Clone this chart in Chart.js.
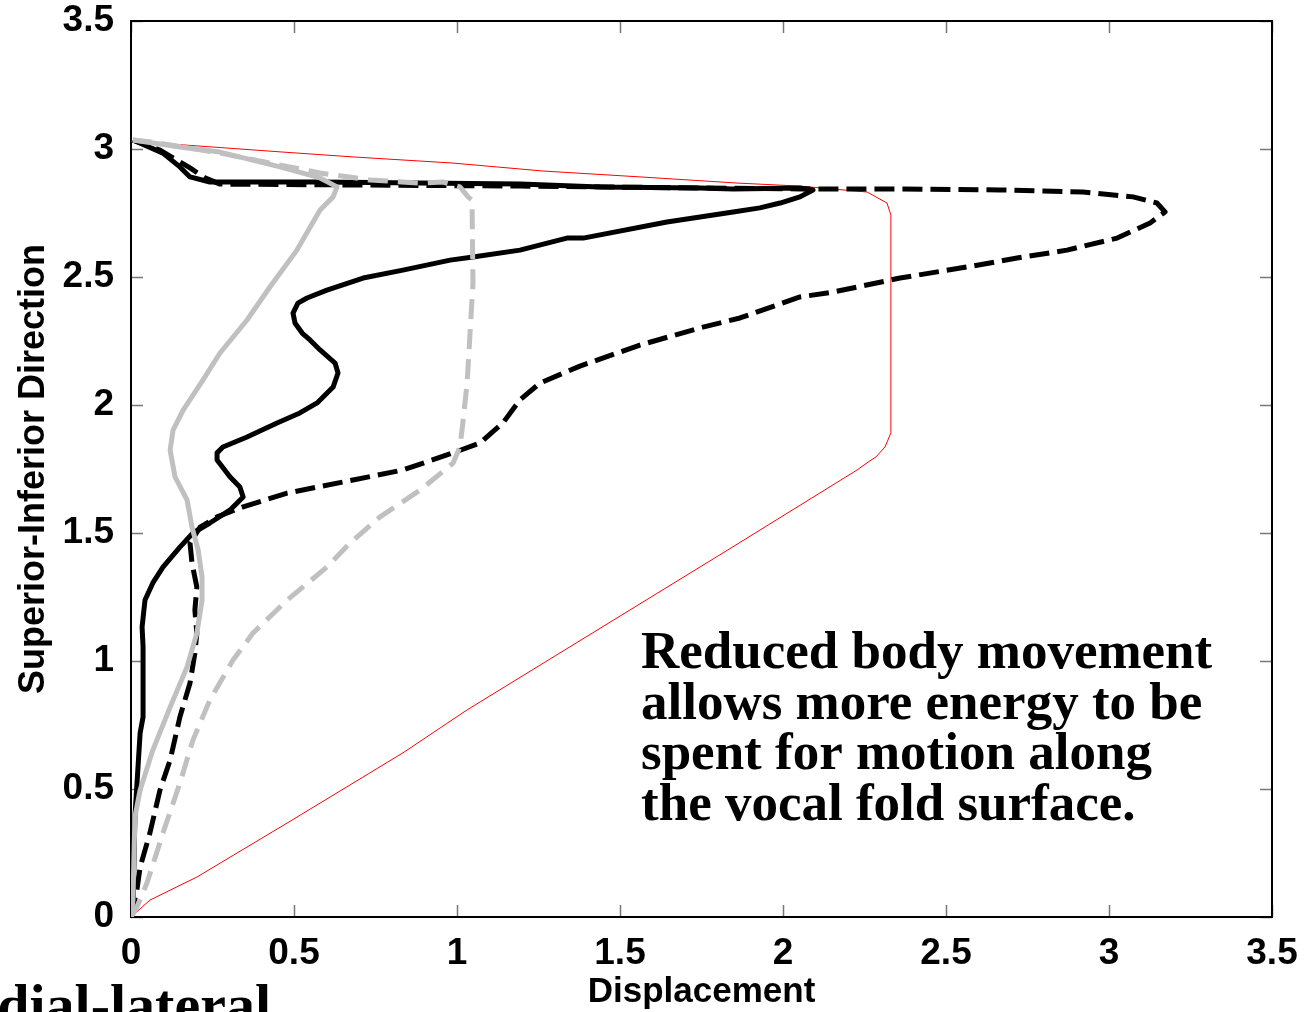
<!DOCTYPE html>
<html>
<head>
<meta charset="utf-8">
<title>Displacement profile</title>
<script src="https://cdn.jsdelivr.net/npm/chart.js@4.4.1/dist/chart.umd.min.js"></script>
<style>
  html, body { margin: 0; padding: 0; background: #fff; }
  canvas { display: block; }
</style>
</head>
<body>
<canvas id="myChart" width="1308" height="1012"></canvas>
<script>
// tick values for both axes
const xTicks = [0, 0.5, 1, 1.5, 2, 2.5, 3, 3.5];
const yTicks = [0, 0.5, 1, 1.5, 2, 2.5, 3, 3.5];

// black solid curve
const blackSolidX = [0, 0.006, 0.012, 0.028, 0.037, 0.037, 0.034, 0.043, 0.067, 0.098, 0.150, 0.190, 0.242, 0.304, 0.344, 0.334, 0.304, 0.264, 0.264, 0.282, 0.356, 0.448, 0.518, 0.571, 0.620, 0.635, 0.626, 0.580, 0.549, 0.525, 0.503, 0.497, 0.512, 0.540, 0.601, 0.712, 0.834, 0.979, 1.049, 1.193, 1.337, 1.387, 1.644, 1.847, 1.929, 1.991, 2.052, 2.092, 2.052, 1.847, 1.745, 1.439, 1.193, 0.580, 0.242, 0.181, 0.150, 0.098, 0.006];
const blackSolidY = [0, 0.016, 0.391, 0.719, 0.781, 1.055, 1.133, 1.238, 1.305, 1.367, 1.445, 1.500, 1.539, 1.590, 1.641, 1.680, 1.719, 1.785, 1.813, 1.836, 1.875, 1.930, 1.969, 2.008, 2.070, 2.125, 2.164, 2.215, 2.254, 2.281, 2.320, 2.359, 2.398, 2.418, 2.449, 2.496, 2.527, 2.566, 2.578, 2.605, 2.652, 2.652, 2.715, 2.754, 2.770, 2.789, 2.813, 2.840, 2.848, 2.844, 2.848, 2.852, 2.863, 2.871, 2.871, 2.891, 2.930, 2.984, 3.035];

// black dashed curve
const blackDashX = [0, 0.018, 0.028, 0.058, 0.089, 0.120, 0.150, 0.181, 0.196, 0.202, 0.196, 0.202, 0.187, 0.181, 0.212, 0.264, 0.344, 0.479, 0.681, 0.834, 0.988, 1.071, 1.141, 1.193, 1.255, 1.377, 1.561, 1.745, 1.868, 2.052, 2.153, 2.359, 2.564, 2.718, 2.871, 3.025, 3.126, 3.172, 3.147, 3.074, 2.920, 2.666, 2.359, 2.052, 1.193, 0.273, 0.227, 0.181, 0.089, 0.006];
const blackDashY = [0, 0.105, 0.195, 0.328, 0.496, 0.613, 0.781, 0.914, 1.031, 1.109, 1.199, 1.289, 1.383, 1.461, 1.523, 1.563, 1.602, 1.656, 1.707, 1.746, 1.813, 1.852, 1.930, 2.020, 2.086, 2.152, 2.234, 2.301, 2.340, 2.422, 2.441, 2.496, 2.539, 2.574, 2.605, 2.652, 2.711, 2.754, 2.789, 2.813, 2.832, 2.840, 2.844, 2.844, 2.855, 2.863, 2.887, 2.926, 2.996, 3.035];

// gray solid curve
const graySolidX = [0, 0.006, 0.012, 0.028, 0.067, 0.120, 0.172, 0.202, 0.218, 0.218, 0.206, 0.187, 0.172, 0.135, 0.120, 0.129, 0.160, 0.221, 0.273, 0.356, 0.426, 0.509, 0.580, 0.620, 0.632, 0.580, 0.457, 0.273, 0.150, 0.006];
const graySolidY = [0, 0.066, 0.391, 0.496, 0.652, 0.820, 0.977, 1.109, 1.238, 1.328, 1.434, 1.523, 1.629, 1.719, 1.824, 1.902, 1.980, 2.098, 2.203, 2.332, 2.461, 2.605, 2.762, 2.813, 2.852, 2.887, 2.930, 2.988, 3.008, 3.035];

// gray dashed curve
const grayDashX = [0, 0.018, 0.049, 0.098, 0.150, 0.190, 0.242, 0.313, 0.374, 0.479, 0.601, 0.672, 0.764, 0.887, 0.988, 1.009, 1.018, 1.031, 1.040, 1.049, 1.046, 1.034, 1.009, 0.957, 0.887, 0.733, 0.580, 0.273, 0.067, 0.006];
const grayDashY = [0, 0.039, 0.133, 0.328, 0.523, 0.691, 0.848, 1.004, 1.109, 1.238, 1.367, 1.461, 1.563, 1.668, 1.773, 1.836, 1.930, 2.086, 2.281, 2.477, 2.801, 2.813, 2.852, 2.871, 2.867, 2.879, 2.906, 2.984, 3.027, 3.035];

// thin red outline
const redX = [0, 0.058, 0.202, 0.479, 0.834, 1.031, 1.831, 2.227, 2.261, 2.285, 2.313, 2.331, 2.331, 2.319, 2.258, 2.052, 1.859, 1.561, 1.264, 0.988, 0.681, 0.466, 0.160, 0];
const redY = [0, 0.066, 0.156, 0.367, 0.641, 0.809, 1.434, 1.746, 1.777, 1.797, 1.836, 1.891, 2.742, 2.789, 2.832, 2.855, 2.867, 2.891, 2.914, 2.945, 2.969, 2.988, 3.016, 3.030];

const noteLines = [
    "Reduced body movement",
    "allows more energy to be",
    "spent for motion along",
    "the vocal fold surface."
];
const bottomText = "Medial-lateral";

function toPoints(xs, ys) {
    return xs.map((x, i) => ({ x: x, y: ys[i] }));
}

// box round the plot with MATLAB style inward ticks
const boxPlugin = {
    id: 'boxTicks',
    beforeDatasetsDraw(chart) {
        const { ctx, chartArea: a, scales } = chart;
        ctx.save();
        ctx.strokeStyle = '#777';
        ctx.lineWidth = 1.5;
        ctx.beginPath();
        xTicks.forEach(v => {
            const px = Math.round(scales.x.getPixelForValue(v)) + 0.5;
            ctx.moveTo(px, a.bottom); ctx.lineTo(px, a.bottom - 12);
            ctx.moveTo(px, a.top); ctx.lineTo(px, a.top + 12);
        });
        yTicks.forEach(v => {
            const py = Math.round(scales.y.getPixelForValue(v)) + 0.5;
            ctx.moveTo(a.left, py); ctx.lineTo(a.left + 12, py);
            ctx.moveTo(a.right, py); ctx.lineTo(a.right - 12, py);
        });
        ctx.stroke();
        ctx.strokeStyle = '#000';
        ctx.lineWidth = 2;
        ctx.strokeRect(a.left, a.top, a.right - a.left, a.bottom - a.top);
        ctx.restore();
    },
    afterDraw(chart) {
        const { ctx } = chart;
        ctx.save();
        ctx.fillStyle = '#000';
        ctx.textAlign = 'left';
        ctx.textBaseline = 'alphabetic';
        ctx.font = 'bold 53px "Liberation Serif", "Times New Roman", serif';
        noteLines.forEach((line, i) => {
            ctx.fillText(line, 641, 668 + i * 50.7);
        });
        // label that runs off the bottom left of the page
        ctx.font = 'bold 58px "Liberation Serif", "Times New Roman", serif';
        ctx.textAlign = 'right';
        ctx.fillText(bottomText, 271, 1024);
        ctx.restore();
    }
};

const sans = '"Liberation Sans", Arial, sans-serif';
const tickFont = { family: sans, size: 37, weight: 'bold', lineHeight: 1 };

const ctx = document.getElementById('myChart').getContext('2d');
new Chart(ctx, {
    type: 'scatter',
    data: {
        datasets: [
            {
                label: 'gray solid',
                data: toPoints(graySolidX, graySolidY),
                borderColor: '#c0c0c0',
                borderWidth: 5
            },
            {
                label: 'gray dashed',
                data: toPoints(grayDashX, grayDashY),
                borderColor: '#c0c0c0',
                borderWidth: 5,
                borderDash: [20, 10]
            },
            {
                label: 'black solid',
                data: toPoints(blackSolidX, blackSolidY),
                borderColor: '#000',
                borderWidth: 5
            },
            {
                label: 'black dashed',
                data: toPoints(blackDashX, blackDashY),
                borderColor: '#000',
                borderWidth: 5,
                borderDash: [20, 8]
            },
            {
                label: 'red',
                data: toPoints(redX, redY),
                borderColor: '#ff0000',
                borderWidth: 1
            }
        ]
    },
    options: {
        responsive: false,
        animation: false,
        showLine: true,
        layout: { padding: { left: 0, top: 21, right: 36, bottom: 0 } },
        elements: {
            point: { radius: 0, hoverRadius: 0 },
            line: { tension: 0, fill: false, borderJoinStyle: 'round', borderCapStyle: 'butt' }
        },
        plugins: {
            legend: { display: false },
            tooltip: { enabled: false }
        },
        scales: {
            x: {
                type: 'linear',
                min: 0,
                max: 3.5,
                afterBuildTicks: (scale) => { scale.ticks = xTicks.map(v => ({ value: v })); },
                afterFit: (scale) => {
                    scale.height = 95;
                    scale.paddingLeft = 0;
                    scale.paddingRight = 0;
                },
                grid: { display: false },
                border: { display: false },
                ticks: {
                    autoSkip: false,
                    maxRotation: 0,
                    padding: 10,
                    color: '#000',
                    font: tickFont,
                    callback: (v) => String(v)
                },
                title: {
                    display: true,
                    text: 'Displacement',
                    color: '#000',
                    font: { family: sans, size: 35, weight: 'bold', lineHeight: 1 },
                    padding: { top: 0, bottom: 2 }
                }
            },
            y: {
                type: 'linear',
                min: 0,
                max: 3.5,
                afterBuildTicks: (scale) => { scale.ticks = yTicks.map(v => ({ value: v })); },
                afterFit: (scale) => {
                    scale.width = 131;
                    scale.paddingTop = 0;
                    scale.paddingBottom = 0;
                },
                grid: { display: false },
                border: { display: false },
                ticks: {
                    autoSkip: false,
                    padding: 9,
                    color: '#000',
                    font: tickFont,
                    callback: (v) => String(v)
                },
                title: {
                    display: true,
                    text: 'Superior-Inferior Direction',
                    color: '#000',
                    font: { family: sans, size: 36, weight: 'bold', lineHeight: 1 },
                    padding: { top: 16, bottom: 0 }
                }
            }
        }
    },
    plugins: [boxPlugin]
});
</script>
</body>
</html>
